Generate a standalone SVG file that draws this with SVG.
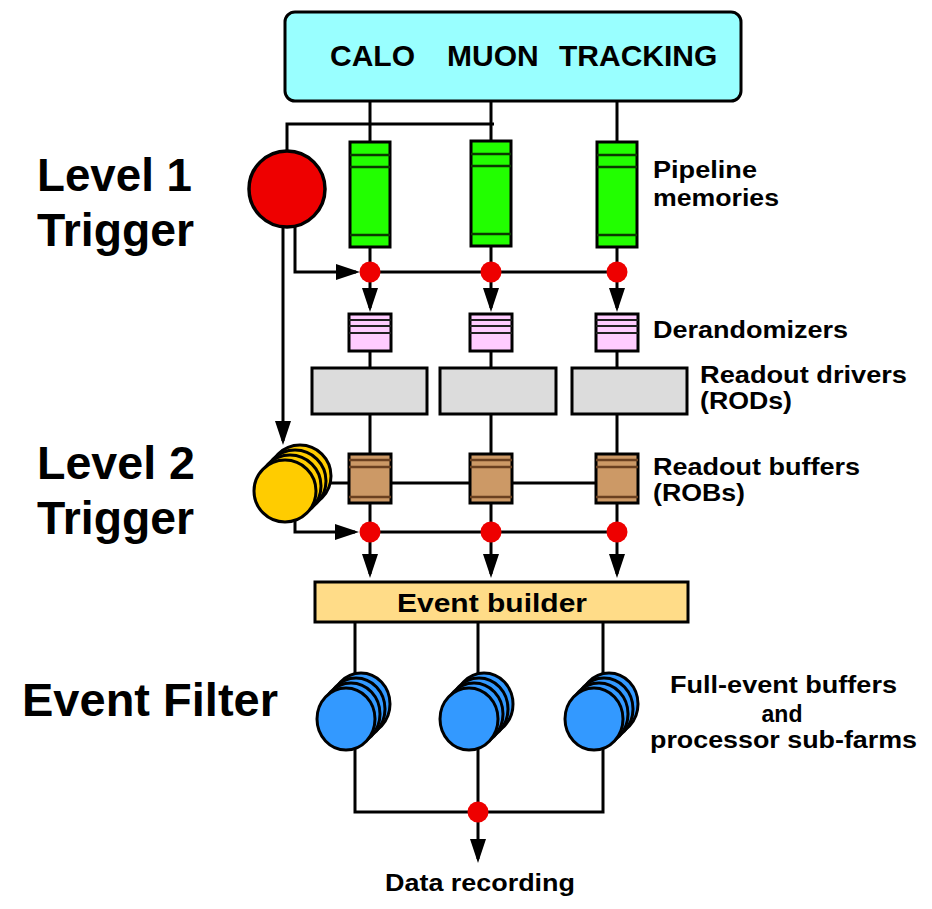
<svg xmlns="http://www.w3.org/2000/svg" width="932" height="909" viewBox="0 0 932 909">
<style>
.ln{fill:none;stroke:#000;stroke-width:3}
.ar{fill:none;stroke:#000;stroke-width:3;marker-end:url(#ah)}
.bx{stroke:#000;stroke-width:3}
.big{font-family:"Liberation Sans",Arial,sans-serif;font-weight:bold;font-size:46px;fill:#000}
.lab{font-family:"Liberation Sans",Arial,sans-serif;font-weight:bold;font-size:23px;fill:#000}
.dot{fill:#ee0000}
.gl{stroke:#0b3a00;stroke-width:2.5}
.pl{stroke:#222;stroke-width:2}
.bl{stroke:#6a4020;stroke-width:2.5}
.blue{fill:#3399ff;stroke:#000;stroke-width:3}
.yel{fill:#ffcc00;stroke:#000;stroke-width:3}
</style>
<defs>
<marker id="ah" markerUnits="userSpaceOnUse" markerWidth="24" markerHeight="16" refX="20" refY="8" orient="auto" viewBox="0 0 24 16">
<path d="M0,0 L24,8 L0,16 z" fill="#000"/>
</marker>
</defs>

<g id="connectors">
<path class="ln" d="M370,101 V142 M491,101 V141 M617,101 V142"/>
<path class="ln" d="M287,151 V124 H494"/>
<path class="ln" d="M370,247 V272 M491,246 V272 M617,247 V272"/>
<path class="ln" d="M360,272 H617"/>
<path class="ar" d="M295,224 V272 H356"/>
<path class="ar" d="M370,272 V308"/>
<path class="ar" d="M491,272 V308"/>
<path class="ar" d="M617,272 V308"/>
<path class="ar" d="M283,226 V441"/>
<path class="ln" d="M370,351 V368 M491,351 V368 M617,351 V368"/>
<path class="ln" d="M370,414 V454 M491,414 V454 M617,414 V454"/>
<path class="ln" d="M316,483 H617"/>
<path class="ln" d="M370,503 V532 M491,503 V532 M617,503 V532"/>
<path class="ln" d="M360,532 H617"/>
<path class="ar" d="M295,517 V532 H355"/>
<path class="ar" d="M370,532 V574"/>
<path class="ar" d="M491,532 V574"/>
<path class="ar" d="M617,532 V574"/>
<path class="ln" d="M355,622 V700 M478,622 V700 M603,622 V700"/>
<path class="ln" d="M355,740 V812 H603 V740 M478,740 V812"/>
<path class="ar" d="M478,812 V859"/>
</g>

<g id="detectors">
<rect class="bx" x="285" y="12" width="456" height="89" rx="10" fill="#99ffff"/>
<text class="lab" style="font-size:30px" x="330" y="66">CALO</text>
<text class="lab" style="font-size:30px" x="447" y="66">MUON</text>
<text class="lab" style="font-size:30px" x="559" y="66">TRACKING</text>
</g>

<g id="level1-trigger">
<circle cx="287" cy="189" r="38" fill="#ee0000" stroke="#000" stroke-width="3.5"/>
</g>

<g id="pipeline-1">
<rect class="bx" x="350" y="142" width="40" height="105" fill="#22ff00"/>
<path class="gl" d="M350,155 H390 M350,167 H390 M350,235 H390"/>
</g>
<g id="pipeline-2">
<rect class="bx" x="471" y="141" width="40" height="105" fill="#22ff00"/>
<path class="gl" d="M471,154 H511 M471,166 H511 M471,234 H511"/>
</g>
<g id="pipeline-3">
<rect class="bx" x="597" y="142" width="40" height="105" fill="#22ff00"/>
<path class="gl" d="M597,155 H637 M597,167 H637 M597,235 H637"/>
</g>

<g id="l1-dots">
<circle class="dot" cx="370" cy="272" r="10.5"/>
<circle class="dot" cx="491" cy="272" r="10.5"/>
<circle class="dot" cx="617" cy="272" r="10.5"/>
</g>

<g id="derand-1">
<rect class="bx" x="349" y="314" width="42" height="37" fill="#ffccff"/>
<path class="pl" d="M349,320 H391 M349,326 H391 M349,333 H391"/>
</g>
<g id="derand-2">
<rect class="bx" x="470" y="314" width="42" height="37" fill="#ffccff"/>
<path class="pl" d="M470,320 H512 M470,326 H512 M470,333 H512"/>
</g>
<g id="derand-3">
<rect class="bx" x="596" y="314" width="42" height="37" fill="#ffccff"/>
<path class="pl" d="M596,320 H638 M596,326 H638 M596,333 H638"/>
</g>

<g id="rod-1"><rect class="bx" x="312" y="368" width="115" height="46" fill="#dcdcdc"/></g>
<g id="rod-2"><rect class="bx" x="440" y="368" width="116" height="46" fill="#dcdcdc"/></g>
<g id="rod-3"><rect class="bx" x="572" y="368" width="115" height="46" fill="#dcdcdc"/></g>

<g id="level2-trigger">
<circle class="yel" cx="300" cy="476" r="31"/>
<circle class="yel" cx="295" cy="481" r="31"/>
<circle class="yel" cx="290" cy="486" r="31"/>
<circle class="yel" cx="285" cy="491" r="31"/>
</g>

<g id="rob-1">
<rect class="bx" x="349" y="454" width="42" height="49" fill="#cc9966"/>
<path class="bl" d="M349,460 H391 M349,467 H391 M349,497 H391"/>
</g>
<g id="rob-2">
<rect class="bx" x="470" y="454" width="42" height="49" fill="#cc9966"/>
<path class="bl" d="M470,460 H512 M470,467 H512 M470,497 H512"/>
</g>
<g id="rob-3">
<rect class="bx" x="596" y="454" width="42" height="49" fill="#cc9966"/>
<path class="bl" d="M596,460 H638 M596,467 H638 M596,497 H638"/>
</g>

<g id="l2-dots">
<circle class="dot" cx="370" cy="532" r="10.5"/>
<circle class="dot" cx="491" cy="532" r="10.5"/>
<circle class="dot" cx="617" cy="532" r="10.5"/>
</g>

<g id="event-builder">
<rect class="bx" x="315" y="582" width="373" height="40" fill="#ffdc88"/>
<text class="lab" x="492" y="612" text-anchor="middle" style="font-size:25px" textLength="190" lengthAdjust="spacingAndGlyphs">Event builder</text>
</g>

<g id="farm-1">
<ellipse class="blue" cx="361" cy="704" rx="29" ry="31"/>
<ellipse class="blue" cx="356" cy="709" rx="29" ry="31"/>
<ellipse class="blue" cx="351" cy="714" rx="29" ry="31"/>
<ellipse class="blue" cx="346" cy="719" rx="29" ry="31"/>
</g>
<g id="farm-2">
<ellipse class="blue" cx="484" cy="704" rx="29" ry="31"/>
<ellipse class="blue" cx="479" cy="709" rx="29" ry="31"/>
<ellipse class="blue" cx="474" cy="714" rx="29" ry="31"/>
<ellipse class="blue" cx="469" cy="719" rx="29" ry="31"/>
</g>
<g id="farm-3">
<ellipse class="blue" cx="609" cy="704" rx="29" ry="31"/>
<ellipse class="blue" cx="604" cy="709" rx="29" ry="31"/>
<ellipse class="blue" cx="599" cy="714" rx="29" ry="31"/>
<ellipse class="blue" cx="594" cy="719" rx="29" ry="31"/>
</g>

<g id="output-dot">
<circle class="dot" cx="478" cy="812" r="10.5"/>
</g>

<g id="labels">
<text class="big" x="37" y="191" textLength="155" lengthAdjust="spacingAndGlyphs">Level 1</text>
<text class="big" x="37" y="246" textLength="157" lengthAdjust="spacingAndGlyphs">Trigger</text>
<text class="big" x="37" y="479" textLength="158" lengthAdjust="spacingAndGlyphs">Level 2</text>
<text class="big" x="37" y="534" textLength="157" lengthAdjust="spacingAndGlyphs">Trigger</text>
<text class="big" x="22" y="716" textLength="256" lengthAdjust="spacingAndGlyphs">Event Filter</text>
<text class="lab" x="653" y="178" textLength="104" lengthAdjust="spacingAndGlyphs">Pipeline</text>
<text class="lab" x="653" y="206" textLength="126" lengthAdjust="spacingAndGlyphs">memories</text>
<text class="lab" x="653" y="338" textLength="195" lengthAdjust="spacingAndGlyphs">Derandomizers</text>
<text class="lab" x="700" y="383" textLength="207" lengthAdjust="spacingAndGlyphs">Readout drivers</text>
<text class="lab" x="700" y="409" textLength="92" lengthAdjust="spacingAndGlyphs">(RODs)</text>
<text class="lab" x="653" y="475" textLength="207" lengthAdjust="spacingAndGlyphs">Readout buffers</text>
<text class="lab" x="653" y="501" textLength="92" lengthAdjust="spacingAndGlyphs">(ROBs)</text>
<text class="lab" x="670" y="693" textLength="227" lengthAdjust="spacingAndGlyphs">Full-event buffers</text>
<text class="lab" x="782" y="722" text-anchor="middle">and</text>
<text class="lab" x="650" y="748" textLength="267" lengthAdjust="spacingAndGlyphs">processor sub-farms</text>
<text class="lab" x="385" y="891" textLength="190" lengthAdjust="spacingAndGlyphs">Data recording</text>
</g>
</svg>
